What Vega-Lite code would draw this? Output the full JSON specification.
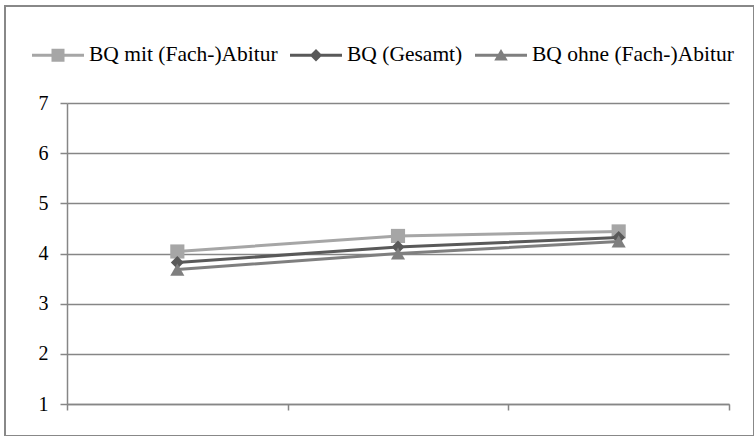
{
  "$schema": "https://vega.github.io/schema/vega-lite/v6.json",
  "autosize": {"type": "none"},
  "padding": {"left": 5, "top": 6, "right": 0, "bottom": 0},
  "width": 749,
  "height": 430,
  "background": "white",
  "config": {
    "view": {"stroke": "#888888", "strokeWidth": 2},
    "axis": {
      "domainColor": "#868686",
      "domainWidth": 1.5,
      "tickColor": "#868686",
      "tickWidth": 1.5,
      "gridColor": "#868686",
      "gridWidth": 1.5,
      "labelFont": "Liberation Serif, Times New Roman, DejaVu Serif, serif",
      "labelFontSize": 20,
      "labelColor": "#000000",
      "title": null
    }
  },
  "data": {
    "values": [
      {"Zeitpunkt": 1, "Serie": "BQ mit (Fach-)Abitur", "Wert": 4.04},
      {"Zeitpunkt": 2, "Serie": "BQ mit (Fach-)Abitur", "Wert": 4.35},
      {"Zeitpunkt": 3, "Serie": "BQ mit (Fach-)Abitur", "Wert": 4.44},
      {"Zeitpunkt": 1, "Serie": "BQ (Gesamt)", "Wert": 3.82},
      {"Zeitpunkt": 2, "Serie": "BQ (Gesamt)", "Wert": 4.13},
      {"Zeitpunkt": 3, "Serie": "BQ (Gesamt)", "Wert": 4.32},
      {"Zeitpunkt": 1, "Serie": "BQ ohne (Fach-)Abitur", "Wert": 3.68},
      {"Zeitpunkt": 2, "Serie": "BQ ohne (Fach-)Abitur", "Wert": 4.0},
      {"Zeitpunkt": 3, "Serie": "BQ ohne (Fach-)Abitur", "Wert": 4.24}
    ]
  },
  "encoding": {
    "x": {
      "field": "Zeitpunkt",
      "type": "quantitative",
      "scale": {"domain": [0.5, 3.5], "range": [62, 724], "nice": false, "zero": false},
      "axis": {
        "values": [0.5, 1.5, 2.5, 3.5],
        "labels": false,
        "grid": false,
        "tickSize": 6,
        "offset": -32
      }
    },
    "y": {
      "field": "Wert",
      "type": "quantitative",
      "scale": {"domain": [1, 7], "range": [398, 97], "nice": false, "zero": false},
      "axis": {
        "values": [1, 2, 3, 4, 5, 6, 7],
        "grid": true,
        "tickSize": 7,
        "labelPadding": 12,
        "offset": -62
      }
    }
  },
  "layer": [
    {
      "transform": [{"filter": "datum.Serie === 'BQ mit (Fach-)Abitur'"}],
      "mark": {"type": "line", "strokeWidth": 3, "color": "#A6A6A6",
        "point": {"shape": "square", "filled": true, "opacity": 1, "size": 200, "color": "#A6A6A6"}}
    },
    {
      "transform": [{"filter": "datum.Serie === 'BQ (Gesamt)'"}],
      "mark": {"type": "line", "strokeWidth": 3, "color": "#595959",
        "point": {"shape": "diamond", "filled": true, "opacity": 1, "size": 170, "color": "#595959"}}
    },
    {
      "transform": [{"filter": "datum.Serie === 'BQ ohne (Fach-)Abitur'"}],
      "mark": {"type": "line", "strokeWidth": 3, "color": "#7F7F7F",
        "point": {"shape": "triangle-up", "filled": true, "opacity": 1, "size": 200, "color": "#7F7F7F"}}
    },
    {
      "mark": {"type": "point", "filled": true, "opacity": 0, "size": 2704},
      "encoding": {
        "color": {
          "field": "Serie",
          "type": "nominal",
          "scale": {
            "domain": ["BQ mit (Fach-)Abitur", "BQ (Gesamt)", "BQ ohne (Fach-)Abitur"],
            "range": ["#A6A6A6", "#595959", "#7F7F7F"]
          },
          "legend": {
            "title": null,
            "orient": "none",
            "legendX": 27,
            "legendY": 23,
            "direction": "horizontal",
            "columns": 3,
            "padding": 0,
            "columnPadding": 12,
            "labelOffset": 5,
            "labelFont": "Liberation Serif, Times New Roman, DejaVu Serif, serif",
            "labelFontSize": 21.5,
            "labelColor": "#000000",
            "labelLimit": 400,
            "symbolSize": 2704,
            "symbolOpacity": 1,
            "symbolStrokeWidth": 0
          }
        },
        "shape": {
          "field": "Serie",
          "type": "nominal",
          "scale": {
            "domain": ["BQ mit (Fach-)Abitur", "BQ (Gesamt)", "BQ ohne (Fach-)Abitur"],
            "range": [
              "M-1,-0.06H1V0.06H-1Z M-0.25,-0.25H0.25V0.25H-0.25Z",
              "M-1,-0.06H1V0.06H-1Z M0,-0.24L0.24,0L0,0.24L-0.24,0Z",
              "M-1,-0.06H1V0.06H-1Z M0,-0.24L0.26,0.2L-0.26,0.2Z"
            ]
          },
          "legend": {
            "title": null,
            "orient": "none",
            "legendX": 27,
            "legendY": 23,
            "direction": "horizontal",
            "columns": 3,
            "padding": 0,
            "columnPadding": 12,
            "labelOffset": 5,
            "labelFont": "Liberation Serif, Times New Roman, DejaVu Serif, serif",
            "labelFontSize": 21.5,
            "labelColor": "#000000",
            "labelLimit": 400,
            "symbolSize": 2704,
            "symbolOpacity": 1,
            "symbolStrokeWidth": 0
          }
        }
      }
    }
  ]
}
